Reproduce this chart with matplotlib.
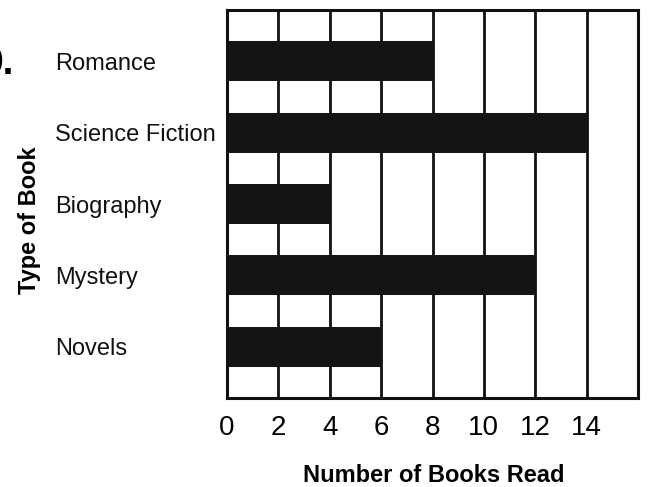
import numpy as np
import matplotlib
matplotlib.use("Agg")
import matplotlib.pyplot as plt
from matplotlib.transforms import blended_transform_factory

plt.rcParams['font.family'] = ['Liberation Sans', 'DejaVu Sans']

# books read per type (top to bottom)
book_types = ["Romance", "Science Fiction", "Biography", "Mystery", "Novels"]
books_read = [8, 14, 4, 12, 6]
x_ticks = [0, 2, 4, 6, 8, 10, 12, 14]

fig = plt.figure(figsize=(6.48, 4.87), dpi=100)
ax = fig.add_axes([227/648, 1 - 398/487, 411/648, 388/487])

ypos = np.arange(len(book_types))
ax.barh(ypos, books_read, height=0.56, color="#141414", zorder=3)

# vertical grid every 2 books
for gx in range(2, 16, 2):
    ax.axvline(gx, color="#111111", lw=2.0, zorder=2)

ax.set_xlim(0, 16)
ax.set_ylim(len(book_types) - 1 + 0.715, -0.715)
for s in ax.spines.values():
    s.set_linewidth(2.2)
    s.set_color("#111111")
    s.set_zorder(4)

ax.set_xticks(x_ticks)
ax.set_xticklabels([str(t) for t in x_ticks], fontsize=20)
ax.tick_params(axis="x", length=0, pad=12)
ax.set_yticks([])

# category names sit left-aligned well away from the box
trans = blended_transform_factory(fig.transFigure, ax.transData)
for y, name in zip(ypos, book_types):
    ax.text(55/648, y, name, transform=trans, fontsize=17,
            ha="left", va="center_baseline", color="#111111")

fig.text(30/648, 1 - 220/487, "Type of Book", rotation=90, fontsize=17,
         fontweight="bold", ha="center", va="center")
fig.text(434/648, 1 - 476/487, "Number of Books Read", fontsize=17,
         fontweight="bold", ha="center", va="center")

# problem number, mostly cut off at the left edge
fig.text(14/648, 1 - 74/487, "9.", fontsize=28, fontweight="bold",
         ha="right", va="baseline")

fig.savefig("out.png", dpi=100)
